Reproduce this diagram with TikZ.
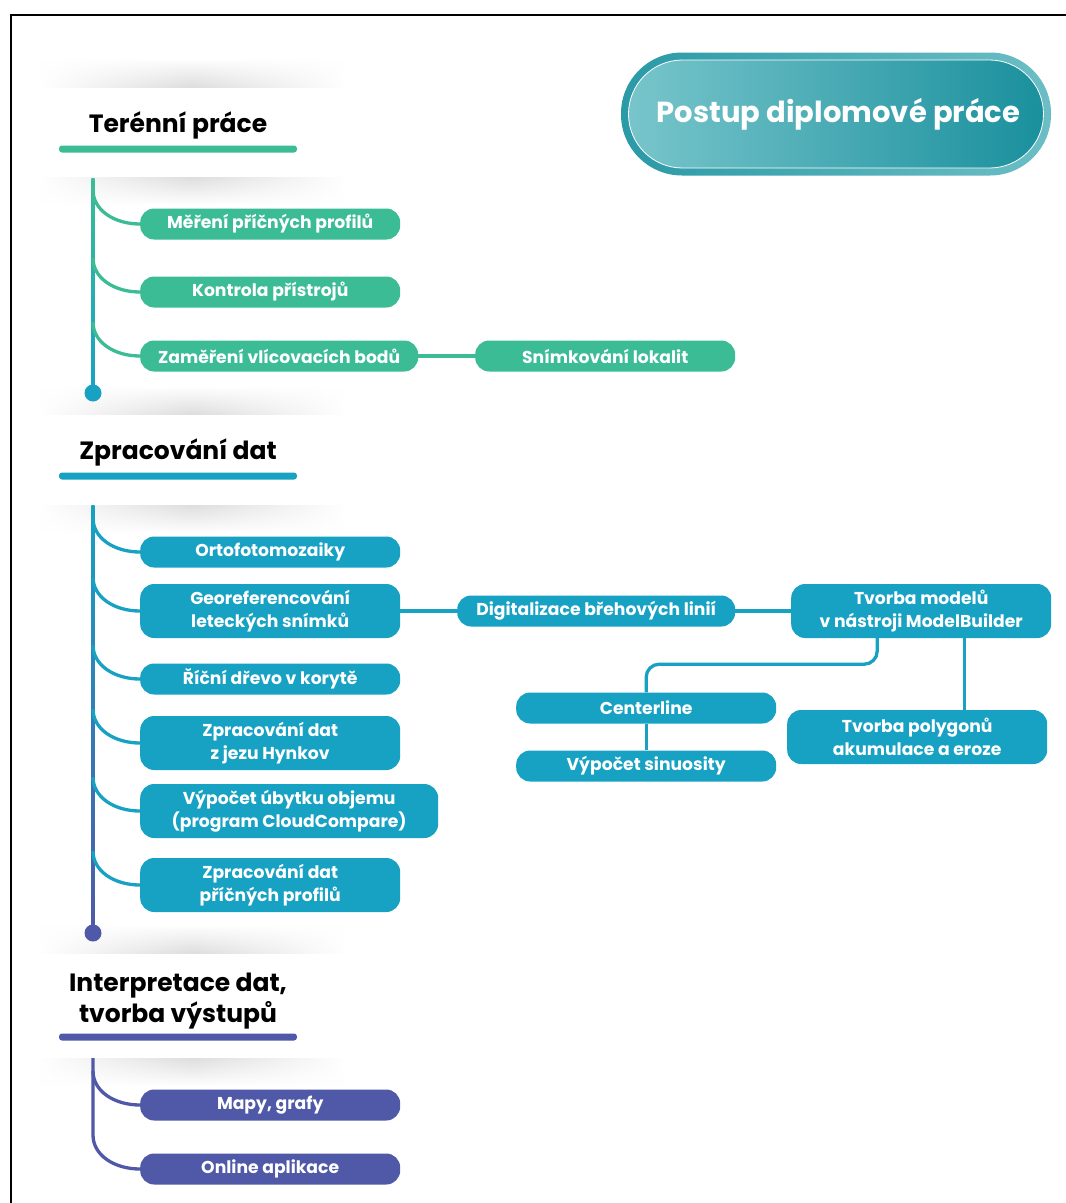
\documentclass[tikz,border=0pt]{standalone}
\usepackage{fontspec}
\setmainfont{Poppins}
\usetikzlibrary{fadings}
\definecolor{cgreen}{HTML}{3BBC95}
\definecolor{cblue}{HTML}{17A1C3}
\definecolor{cpurple}{HTML}{4F59A8}
\definecolor{tdark}{HTML}{1A909D}
\definecolor{tlight}{HTML}{78C5CB}
\definecolor{rdark}{HTML}{2A9AA6}
\definecolor{rlight}{HTML}{6CBEC5}
\tikzfading[name=hfade, left color=transparent!100, right color=transparent!100, middle color=transparent!0]
\tikzset{
  itembox/.style={rounded corners=14pt, minimum height=31pt, minimum width=260pt, anchor=west,
    text=white, align=center, inner sep=2pt, font=\fontsize{17.2}{23}\selectfont\bfseries},
  gbox/.style={itembox, fill=cgreen},
  bbox/.style={itembox, fill=cblue},
  pbox/.style={itembox, fill=cpurple},
  tallbox/.style={minimum height=54pt},
  conn/.style={line width=3.3pt},
  headtext/.style={font=\fontsize{25}{31}\selectfont\bfseries, text=black, align=center},
  ubar/.style={rounded corners=3pt, minimum width=238pt, minimum height=7pt, inner sep=0pt},
  enddot/.style={circle, minimum size=17pt, inner sep=0pt},
  shadowtop/.style={top color=white, bottom color=black!13, path fading=hfade, fit fading=true},
  shadowbot/.style={top color=black!13, bottom color=white, path fading=hfade, fit fading=true},
}
\begin{document}
\begin{tikzpicture}[x=1pt, y=-1pt]
\useasboundingbox (0,0) rectangle (1066,1203);
\clip (0,0) rectangle (1066,1203);
\fill[white] (0,0) rectangle (1066,1203);
% frame
\draw[line width=2.2pt] (11,1215) -- (11,15) -- (1075,15);

% header card shadows
\shade[shadowtop] (40,58) rectangle (345,87);
\shade[shadowbot] (40,177) rectangle (345,205);
\shade[shadowtop] (40,386) rectangle (345,414);
\shade[shadowbot] (40,505) rectangle (345,533);
\shade[shadowtop] (40,925) rectangle (345,953);
\shade[shadowbot] (40,1058) rectangle (345,1086);

% title
\node[rounded corners=61pt, minimum width=430pt, minimum height=123pt, left color=rdark, right color=rlight] (title) at (836,114) {};
\node[rounded corners=54pt, minimum width=415pt, minimum height=108pt, left color=tlight, right color=tdark,
  draw=white, line width=0.8pt, text=white, font=\fontsize{29}{35}\selectfont\bfseries] (titlein) at (title.center) {\kern5pt Postup diplomové práce};

% ===== Section 1 =====
\node[headtext] (h1) at (178,125) {Terénní práce};
\node[ubar, fill=cgreen] (u1) at (178,149) {};
\coordinate (t1) at (93,178);
\node[enddot, fill=cblue] (d1) at (93,393) {};
\shade[top color=cgreen, middle color=cgreen, bottom color=cblue] (91.3,178) rectangle (94.7,393);

\node[gbox] (g1) at (140,224) {Měření příčných profilů};
\node[gbox] (g2) at (140,292) {Kontrola přístrojů};
\node[gbox, minimum width=278pt] (g3) at (140,356) {Zaměření vlícovacích bodů};
\node[gbox] (g4) at (475,356) {Snímkování lokalit};
\draw[conn, cgreen] (g3.east) -- (g4.west);

\coordinate (b11) at (93,190);
\coordinate (b12) at (93,258);
\coordinate (b13) at (93,322);
\draw[conn, cgreen] (b11) .. controls (93,210) and (114,224) .. (g1.west);
\draw[conn, cgreen] (b12) .. controls (93,278) and (114,292) .. (g2.west);
\draw[conn, cgreen] (b13) .. controls (93,342) and (114,356) .. (g3.west);

% ===== Section 2 =====
\node[headtext] (h2) at (178,452) {Zpracování dat};
\node[ubar, fill=cblue] (u2) at (178,476) {};
\coordinate (t2) at (93,505);
\node[enddot, fill=cpurple] (d2) at (93,933) {};
\shade[top color=cblue, middle color=cblue, bottom color=cpurple] (91.3,505) rectangle (94.7,933);

\node[bbox] (o1) at (140,552) {Ortofotomozaiky};
\node[bbox, tallbox] (o2) at (140,611) {Georeferencování\\leteckých snímků};
\node[bbox] (o3) at (140,679) {Říční dřevo v korytě};
\node[bbox, tallbox] (o4) at (140,743) {Zpracování dat\\z jezu Hynkov};
\node[bbox, tallbox, minimum width=298pt] (o5) at (140,811) {Výpočet úbytku objemu\\(program CloudCompare)};
\node[bbox, tallbox] (o6) at (140,885) {Zpracování dat\\příčných profilů};

\coordinate (b21) at (93,518);
\coordinate (b22) at (93,577);
\coordinate (b23) at (93,645);
\coordinate (b24) at (93,709);
\coordinate (b25) at (93,777);
\coordinate (b26) at (93,851);
\draw[conn, cblue] (b21) .. controls (93,538) and (114,552) .. (o1.west);
\draw[conn, cblue] (b22) .. controls (93,597) and (114,611) .. (o2.west);
\draw[conn, cblue] (b23) .. controls (93,665) and (114,679) .. (o3.west);
\draw[conn, cblue] (b24) .. controls (93,729) and (114,743) .. (o4.west);
\draw[conn, cblue] (b25) .. controls (93,797) and (114,811) .. (o5.west);
\draw[conn, cblue] (b26) .. controls (93,871) and (114,885) .. (o6.west);

\node[bbox, minimum width=278pt] (dig) at (457,611) {Digitalizace břehových linií};
\node[bbox, tallbox] (tvm) at (791,611) {Tvorba modelů\\v nástroji ModelBuilder};
\node[bbox] (cen) at (516,708) {Centerline};
\node[bbox] (sin) at (516,766) {Výpočet sinuosity};
\node[bbox, tallbox] (pol) at (787,737) {Tvorba polygonů\\akumulace a eroze};

\draw[conn, cblue] (o2.east) -- (dig.west);
\draw[conn, cblue] (dig.east) -- (tvm.west);
\draw[conn, cblue, rounded corners=13pt] ([xshift=-44pt]tvm.south) -- ++(0,26) -| (cen.north);
\draw[conn, cblue] (cen.south) -- (sin.north);
\draw[conn, cblue] ([xshift=43pt]tvm.south) -- ([xshift=43pt]tvm.south |- pol.north);

% ===== Section 3 =====
\node[headtext] (h3) at (178,1001) {Interpretace dat,\\tvorba výstupů};
\node[ubar, fill=cpurple] (u3) at (178,1037) {};
\coordinate (t3) at (93,1058);
\node[pbox] (p1) at (140,1105) {Mapy, grafy};
\node[pbox] (p2) at (140,1169) {Online aplikace};
\coordinate (b31) at (93,1071);
\coordinate (b32) at (93,1135);
\draw[conn, cpurple] (t3) -- (b32) .. controls (93,1155) and (114,1169) .. (p2.west);
\draw[conn, cpurple] (b31) .. controls (93,1091) and (114,1105) .. (p1.west);
\end{tikzpicture}
\end{document}
